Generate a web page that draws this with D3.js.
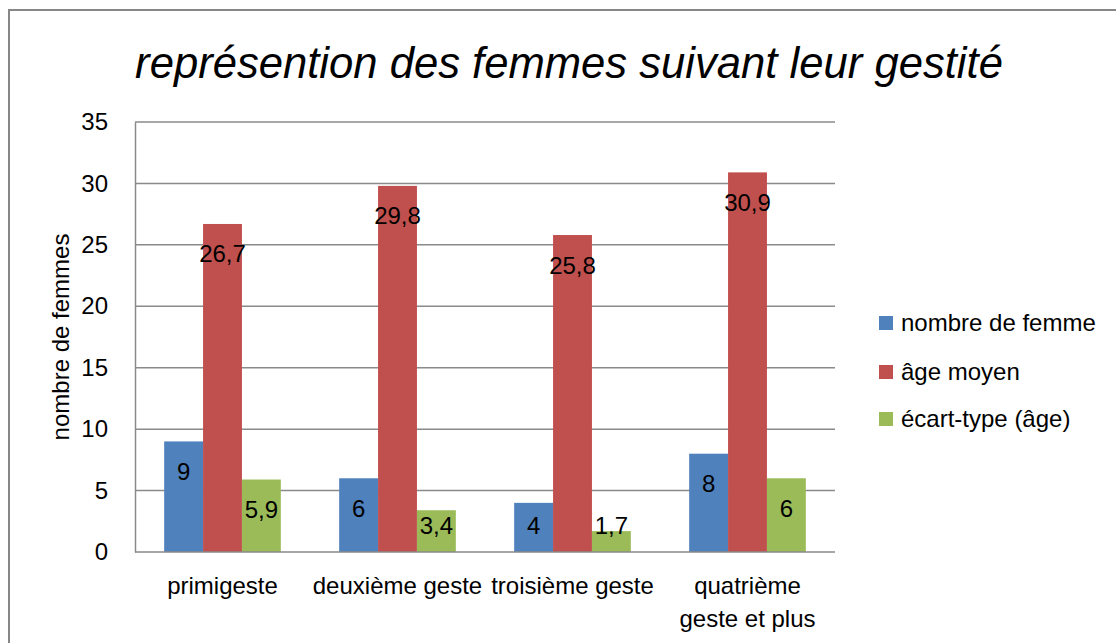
<!DOCTYPE html>
<html><head><meta charset="utf-8">
<script src="https://cdn.jsdelivr.net/npm/d3@7"></script>
<style>body{margin:0;background:#fff}svg{display:block}text{font-family:"Liberation Sans",Arial,sans-serif;fill:#000}</style>
</head><body>
<script>
const title = "représention des femmes suivant leur gestité";
const yTitle = "nombre de femmes";
const categories = [["primigeste"],["deuxième geste"],["troisième geste"],["quatrième","geste et plus"]];
const seriesNames = ["nombre de femme","âge moyen","écart-type (âge)"];
const seriesColors = ["#4F81BD","#C0504D","#9BBB59"];
const nombre = [9,6,4,8];
const ageMoyen = [26.7,29.8,25.8,30.9];
const ecartType = [5.9,3.4,1.7,6];
const labelsNombre = ["9","6","4","8"];
const labelsAge = ["26,7","29,8","25,8","30,9"];
const labelsEcart = ["5,9","3,4","1,7","6"];
const yTicks = [0,5,10,15,20,25,30,35];

const W=1116,H=643;
const svg=d3.select("body").append("svg").attr("width",W).attr("height",H);
svg.append("rect").attr("width",W).attr("height",H).attr("fill","#fff");
// outer border
svg.append("path").attr("d",`M9,${H} V10 H${W}`).attr("fill","none").attr("stroke","#878787").attr("stroke-width",2);

const L=135,R=835,T=122,B=552;
const y=d3.scaleLinear().domain([0,35]).range([B,T]);
const catIdx=d3.range(categories.length);
const x0=d3.scaleBand().domain(catIdx).range([L,R]).padding(0);
const bw=x0.bandwidth();
const x1=d3.scaleBand().domain([0,1,2]).range([bw/6,bw*5/6]).padding(0);

// gridlines
svg.append("g").selectAll("line").data(yTicks.filter(d=>d>0)).join("line")
  .attr("x1",L).attr("x2",R).attr("y1",d=>y(d)).attr("y2",d=>y(d))
  .attr("stroke","#8a8a8a").attr("stroke-width",1.5);

// y axis
const ya=svg.append("g").attr("transform",`translate(${L},0)`)
  .call(d3.axisLeft(y).tickValues(yTicks).tickSize(0).tickPadding(27).tickFormat(d3.format("d")));
ya.select(".domain").attr("stroke","#8a8a8a").attr("stroke-width",1.5);
ya.selectAll("text").attr("font-size",24).attr("font-family","Liberation Sans, Arial, sans-serif").attr("fill","#000");

// bars
const series=[
 {vals:nombre,labels:labelsNombre},
 {vals:ageMoyen,labels:labelsAge},
 {vals:ecartType,labels:labelsEcart}];
series.forEach((s,si)=>{
  const g=svg.append("g");
  g.selectAll("rect").data(s.vals).join("rect")
   .attr("x",(d,i)=>x0(i)+x1(si)).attr("width",x1.bandwidth())
   .attr("y",d=>y(d)).attr("height",d=>B-y(d)).attr("fill",seriesColors[si]);
  g.selectAll("text").data(s.vals).join("text")
   .attr("x",(d,i)=>x0(i)+x1(si)+x1.bandwidth()/2)
   .attr("y",d=>Math.min(y(d)+30,525)+8.5)
   .attr("text-anchor","middle").attr("font-size",24)
   .text((d,i)=>s.labels[i]);
});

// bottom axis line
svg.append("line").attr("x1",L).attr("x2",R).attr("y1",B).attr("y2",B)
  .attr("stroke","#8a8a8a").attr("stroke-width",1.5);

// category labels
const cl=svg.append("g");
categories.forEach((lines,i)=>{
  lines.forEach((t,j)=>{
    cl.append("text").attr("x",x0(i)+bw/2).attr("y",594+j*33)
      .attr("text-anchor","middle").attr("font-size",24).text(t);
  });
});

// y title
svg.append("text").attr("transform","translate(69,337) rotate(-90)")
  .attr("text-anchor","middle").attr("font-size",24).text(yTitle);

// title
const tt=svg.append("text").attr("x",569).attr("y",78).attr("text-anchor","middle")
  .attr("font-size",44).attr("font-style","italic").text(title);
const tw=tt.node().getComputedTextLength();
tt.attr("font-size",44*868/tw);

// legend
const lg=svg.append("g");
const ly=[323,372,419];
seriesNames.forEach((n,i)=>{
  lg.append("rect").attr("x",879).attr("y",ly[i]-7).attr("width",14).attr("height",14).attr("fill",seriesColors[i]);
  lg.append("text").attr("x",901).attr("y",ly[i]+8).attr("font-size",24).text(n);
});
</script>
</body></html>
